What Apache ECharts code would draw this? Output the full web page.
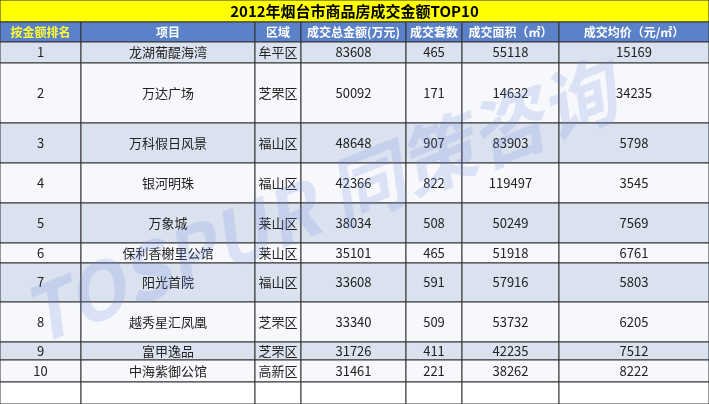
<!DOCTYPE html><html><head><meta charset="utf-8"><script src="https://cdn.jsdelivr.net/npm/echarts@6/dist/echarts.min.js"></script>
<style>body{margin:0}#c{width:709px;height:404px}</style></head><body><div id="c"></div><script>
const title='2012年烟台市商品房成交金额TOP10';
const headers=['按金额排名','项目','区域','成交总金额(万元)','成交套数','成交面积（㎡）','成交均价（元/㎡）'];
const ranks=['1','2','3','4','5','6','7','8','9','10'];
const projects=['龙湖葡醍海湾','万达广场','万科假日风景','银河明珠','万象城','保利香榭里公馆','阳光首院','越秀星汇凤凰','富甲逸品','中海紫御公馆'];
const districts=['牟平区','芝罘区','福山区','福山区','莱山区','莱山区','福山区','芝罘区','芝罘区','高新区'];
const amounts=[83608,50092,48648,42366,38034,35101,33608,33340,31726,31461];
const units=[465,171,907,822,508,465,591,509,411,221];
const areas=[55118,14632,83903,119497,50249,51918,57916,53732,42235,38262];
const prices=[15169,34235,5798,3545,7569,6761,5803,6205,7512,8222];

const colX=[0,81,255,301,406,462,559,709];
const rowY=[42,63,123,163,203,243,263,302,342,360,382,404];
const cols=[ranks,projects,districts,amounts,units,areas,prices];
const cells=[];
cells.push([0,709,0,22,title,'#ffff00','#000',15,'bold']);
for(let c=0;c<7;c++)cells.push([colX[c],colX[c+1],22,42,headers[c],'#5b82c8',c===0?'#ffff33':'#fff',12,'bold']);
for(let r=0;r<11;r++){const fill=(r%2===0&&r<10)?'#dbe2ef':'#f7f8fb';
 for(let c=0;c<7;c++)cells.push([colX[c],colX[c+1],rowY[r],rowY[r+1],r<10?String(cols[c][r]):'',r<10?fill:'#fff','#222',13,'normal']);}
const ch=echarts.init(document.getElementById('c'));
ch.setOption({animation:false,grid:{left:0,right:0,top:0,bottom:0},
xAxis:{type:'value',min:0,max:709,show:false},yAxis:{type:'value',min:0,max:404,inverse:true,show:false},
graphic:[{type:'text',x:40,y:355,rotation:0.38,z:100,style:{text:'TOSPUR 同策咨询',verticalAlign:'bottom',font:'italic bold 76px "Noto Sans CJK SC"',fill:'rgba(110,140,230,0.2)'}}],
series:[{type:'custom',data:cells,renderItem:(p,api)=>{const d=cells[p.dataIndex];
 const a=api.coord([d[0],d[2]]),b=api.coord([d[1],d[3]]);
 return {type:'group',children:[{type:'rect',shape:{x:a[0],y:a[1],width:b[0]-a[0],height:b[1]-a[1]},style:{fill:d[5],stroke:'#333',lineWidth:1}},
 {type:'text',style:{x:(a[0]+b[0])/2,y:(a[1]+b[1])/2,text:d[4],align:'center',verticalAlign:'middle',fill:d[6],font:d[8]+' '+d[7]+'px "Noto Sans CJK SC"'}}]};}}]});
</script></body></html>
